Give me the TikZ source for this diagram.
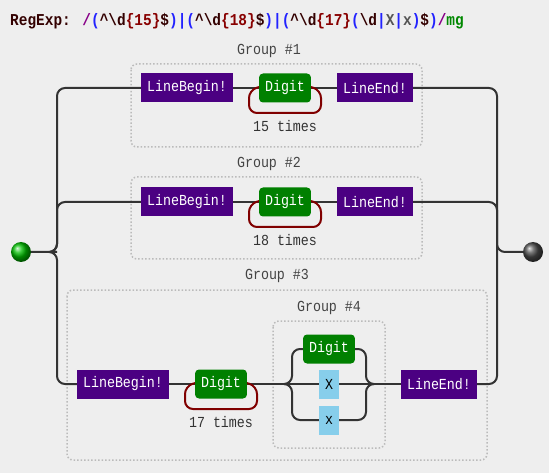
\documentclass[tikz,border=0pt]{standalone}
\usepackage{fontspec}
\setmonofont{Liberation Mono}
\newfontfamily\nodefont{Liberation Mono}[FakeStretch=0.87]
\definecolor{bgc}{HTML}{EEEEEE}
\definecolor{anc}{HTML}{4B0082}
\definecolor{dig}{HTML}{008000}
\definecolor{chr}{HTML}{87CEEB}
\definecolor{railc}{HTML}{333333}
\definecolor{loopc}{HTML}{800000}
\definecolor{grp}{HTML}{BBBBBB}
\definecolor{lab}{HTML}{444444}
\definecolor{tblue}{HTML}{2222FF}
\definecolor{tdark}{HTML}{330000}
\definecolor{tred}{HTML}{880000}
\definecolor{tpur}{HTML}{880088}
\definecolor{tgray}{HTML}{555555}
\definecolor{tgreen}{HTML}{008800}
\pgfdeclarelayer{bg}
\pgfsetlayers{bg,main}
\newcommand{\tb}[1]{\textcolor{tblue}{#1}}
\newcommand{\td}[1]{\textcolor{tdark}{#1}}
\newcommand{\tr}[1]{\textcolor{tred}{#1}}
\begin{document}
\begin{tikzpicture}[x=1pt,y=-1pt,
  every node/.style={font=\nodefont\fontsize{15.3pt}{17pt}\selectfont, inner sep=0pt},
  anchorbox/.style={fill=anc, text=white, minimum height=29pt, inner xsep=6pt},
  digitbox/.style={fill=dig, text=white, minimum height=29pt, inner xsep=6pt, rounded corners=4pt},
  charbox/.style={fill=chr, text=black, minimum height=29pt, minimum width=20pt},
  groupbox/.style={draw=grp, line width=1.5pt, dotted, rounded corners=6pt},
  grouplabel/.style={text=lab},
  timeslabel/.style={text=railc},
  rail/.style={draw=railc, line width=2pt, rounded corners=8pt},
  loopline/.style={draw=loopc, line width=2pt, rounded corners=8pt},
  ballnode/.style={circle, minimum size=20pt}
]
% title
\node[anchor=west, font=\nodefont\bfseries\fontsize{16.6pt}{18pt}\selectfont] (title) at (10,21)
 {\td{RegExp:} \textcolor{tpur}{/}\tb{(}\td{\textasciicircum\textbackslash d}\tr{\{15\}}\td{\$}\tb{)}\tb{|}\tb{(}\td{\textasciicircum\textbackslash d}\tr{\{18\}}\td{\$}\tb{)}\tb{|}\tb{(}\td{\textasciicircum\textbackslash d}\tr{\{17\}}\tb{(}\td{\textbackslash d}\tb{|}\textcolor{tgray}{X}\tb{|}\textcolor{tgray}{x}\tb{)}\td{\$}\tb{)}\textcolor{tpur}{/}\textcolor{tgreen}{mg}};

% start / end
\node[ballnode, ball color=green!75!black] (start) at (21,252) {};
\node[ballnode, ball color=black!70] (end) at (533,252) {};

% group 1
\node[anchorbox] (g1lb) at (187,88) {LineBegin!};
\node[digitbox] (g1d) at (285,88) {Digit};
\node[anchorbox] (g1le) at (375,88) {LineEnd!};
\node[grouplabel] (g1lab) at (269,51) {Group \#1};
\node[timeslabel] (g1t) at (285,126) {15 times};

% group 2
\node[anchorbox] (g2lb) at (187,202) {LineBegin!};
\node[digitbox] (g2d) at (285,202) {Digit};
\node[anchorbox] (g2le) at (375,202) {LineEnd!};
\node[grouplabel] (g2lab) at (269,164) {Group \#2};
\node[timeslabel] (g2t) at (285,240) {18 times};

% group 3
\node[anchorbox] (g3lb) at (123,384) {LineBegin!};
\node[digitbox] (g3d) at (221,384) {Digit};
\node[anchorbox] (g3le) at (439,384) {LineEnd!};
\node[grouplabel] (g3lab) at (277,276) {Group \#3};
\node[timeslabel] (g3t) at (221,422) {17 times};

% group 4
\node[digitbox] (g4d) at (329,349) {Digit};
\node[charbox] (g4X) at (329,384) {X};
\node[charbox] (g4x) at (329,420) {x};
\node[grouplabel] (g4lab) at (329,308) {Group \#4};
\coordinate (g4in) at (285,384);
\coordinate (g4out) at (373,384);

\begin{pgfonlayer}{bg}
\fill[bgc] (0,0) rectangle (549,473);
\draw[groupbox] (131,64) rectangle (422,147);
\draw[groupbox] (131,177) rectangle (422,259);
\draw[groupbox] (67,290) rectangle (487,460);
\draw[groupbox] (273,321) rectangle (385,448);

% left split
\draw[rail] (start.east) -- (49,252) -| (57,88) -- (g1lb.west);
\draw[rail] (49,252) -| (57,202) -- (g2lb.west);
\draw[rail] (49,252) -| (57,384) -- (g3lb.west);
% right join
\draw[rail] (g1le.east) -| (497,252) -- (end.west);
\draw[rail] (g2le.east) -| (497,252);
\draw[rail] (g3le.east) -| (497,252);

% group 1 / 2 rails
\draw[rail] (g1lb.east) -- (g1d.west);
\draw[rail] (g1d.east) -- (g1le.west);
\draw[rail] (g2lb.east) -- (g2d.west);
\draw[rail] (g2d.east) -- (g2le.west);
% group 3 rails
\draw[rail] (g3lb.east) -- (g3d.west);
\draw[rail] (g3d.east) -- (g4in);
\draw[rail] (g4in) -| (292,349) -- (g4d.west);
\draw[rail] (g4in) -- (g4X.west);
\draw[rail] (g4in) -| (292,420) -- (g4x.west);
\draw[rail] (g4d.east) -| (366,384) -- (g4out);
\draw[rail] (g4X.east) -- (g4out);
\draw[rail] (g4x.east) -| (366,384) -- (g4out);
\draw[rail] (g4out) -- (g3le.west);

% loops
\draw[loopline] ([xshift=4pt,yshift=2pt]g1d.west) -- (249,90) -- (249,113) -- (321,113) -- (321,90) -- ([xshift=-4pt,yshift=2pt]g1d.east);
\draw[loopline] ([xshift=4pt,yshift=2pt]g2d.west) -- (249,204) -- (249,227) -- (321,227) -- (321,204) -- ([xshift=-4pt,yshift=2pt]g2d.east);
\draw[loopline] ([xshift=4pt,yshift=2pt]g3d.west) -- (185,386) -- (185,409) -- (257,409) -- (257,386) -- ([xshift=-4pt,yshift=2pt]g3d.east);
\end{pgfonlayer}
\end{tikzpicture}
\end{document}
